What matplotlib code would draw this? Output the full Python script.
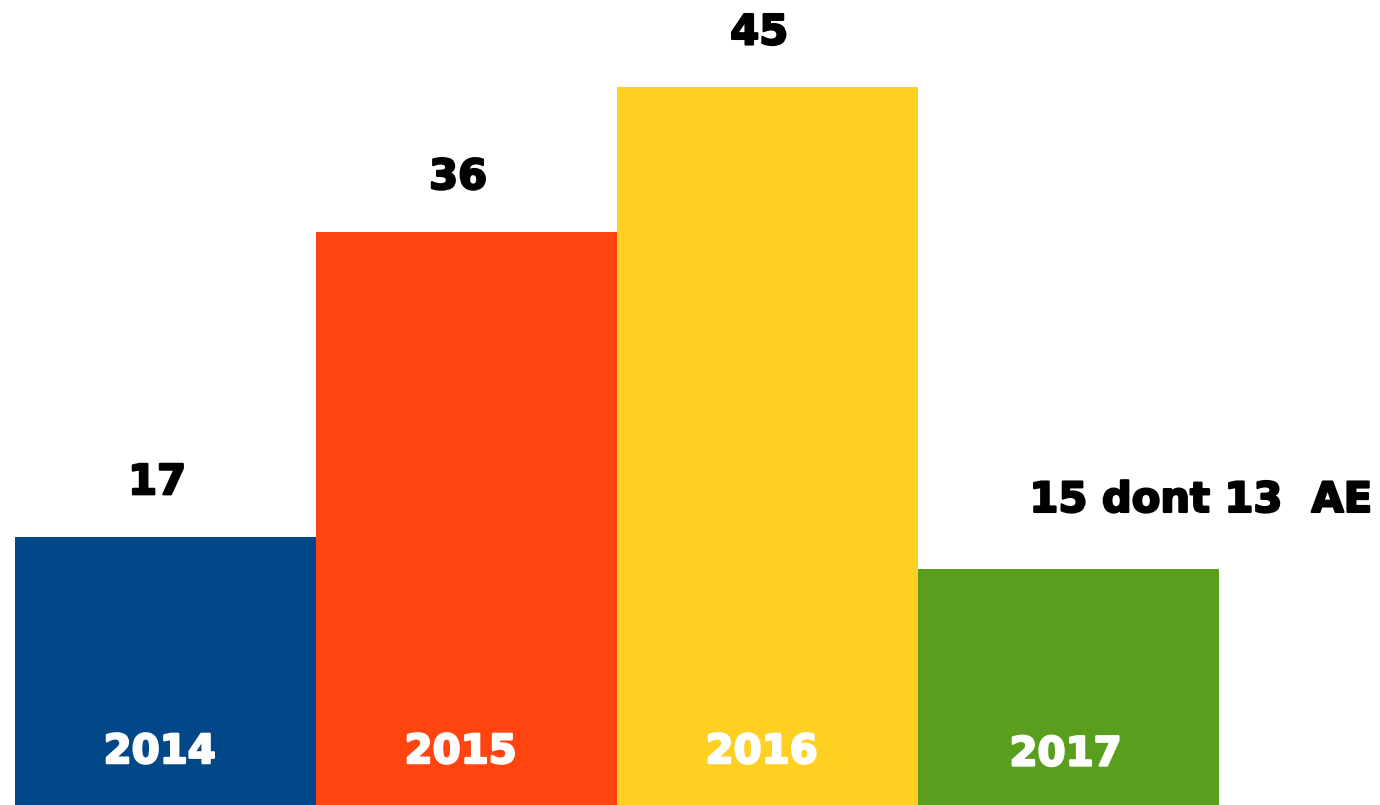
import matplotlib
matplotlib.use("Agg")
import matplotlib.pyplot as plt
import matplotlib.patheffects as pe

years = ["2014", "2015", "2016", "2017"]
values = [17, 36, 45, 15]
value_labels = ["17", "36", "45", "15 dont 13  AE"]
colors = ["#024787", "#FF4410", "#FDD022", "#5A9E1E"]

fig = plt.figure(figsize=(13.8, 8.05), dpi=100)
ax = fig.add_axes([0, 0, 1, 1])
x = list(range(len(years)))
ax.bar(x, values, width=1.0, color=colors, edgecolor="none")

font = "DejaVu Sans"
blk = [pe.withStroke(linewidth=1.6, foreground="black")]
wht = [pe.withStroke(linewidth=1.6, foreground="white")]
for i, (v, lab, yr) in enumerate(zip(values, value_labels, years)):
    if i == len(years) - 1:
        ax.text(i - 0.13, v + 4.3, lab, ha="left", va="center", fontsize=30,
                fontweight="bold", family=font, color="black", path_effects=blk)
        ax.text(i - 0.01, 3.45, yr, ha="center", va="center", fontsize=29,
                fontweight="bold", family=font, color="white", path_effects=wht)
    else:
        ax.text(i - 0.028, v + 3.4, lab, ha="center", va="center", fontsize=30,
                fontweight="bold", family=font, color="black", path_effects=blk)
        ax.text(i - 0.02, 3.6, yr, ha="center", va="center", fontsize=29,
                fontweight="bold", family=font, color="white", path_effects=wht)

ax.set_xlim(-0.55, -0.55 + 1380 / 301)
ax.set_ylim(0.31, 50.42)
ax.axis("off")
fig.savefig("out.png", dpi=100)
